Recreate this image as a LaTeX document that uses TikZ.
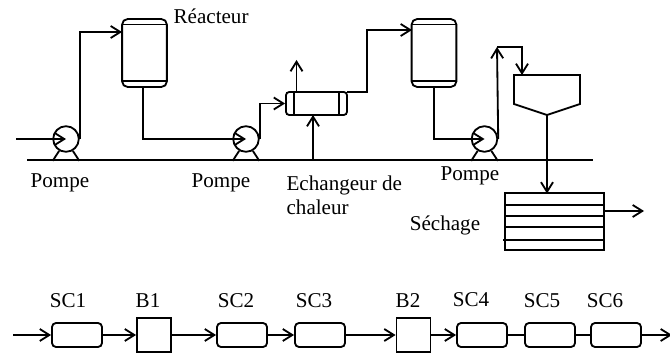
\documentclass[tikz,border=0pt]{standalone}
\usepackage{fontspec}
\setmainfont{Liberation Serif}
\usetikzlibrary{arrows.meta}
\tikzset{
  flux/.style={-{Straight Barb[length=2.4mm,width=3mm]}},
  reacteur/.style={draw, rounded corners=1.4mm, minimum width=11.2mm, minimum height=17mm, inner sep=0},
  pompe/.style={draw, circle, minimum size=6.4mm, inner sep=0},
  sc/.style={draw, rounded corners=1mm, minimum width=12.5mm, minimum height=6mm, inner sep=0},
  bac/.style={draw, minimum width=8.5mm, minimum height=8.5mm, inner sep=0},
}
\begin{document}
\begin{tikzpicture}[x=0.25mm, y=-0.25mm, line width=1.3pt]\tikzstyle{every node}=[font=\fontsize{15}{17}\selectfont]
\useasboundingbox (0,0) rectangle (670,354);
\node[reacteur] (reacteurA) at (144.5,53) {};
\node[reacteur] (reacteurB) at (434,53) {};
\node[pompe] (pompeA) at (66,139) {};
\node[pompe] (pompeB) at (246,139) {};
\node[pompe] (pompeC) at (484.5,139) {};
\node[draw, rounded corners=0.8mm, minimum width=15.25mm, minimum height=5.75mm, inner sep=0] (echangeur) at (316.5,103.5) {};
\node[draw, minimum width=24.75mm, minimum height=14.25mm, inner sep=0] (sechoir) at (554.5,221.75) {};
\coordinate (entonnoir) at (547,115);
\draw (514,75) -- (580,75) -- (580,104) -- (entonnoir) -- (514,104) -- cycle;
%%%%%%%%%%%%%
\coordinate (entree) at (16,139);
\coordinate (socleA) at (27,160);
\coordinate (socleB) at (593,160);
\coordinate (alimA) at (122,32);
\coordinate (alimB) at (412,30);
\coordinate (vapeurA) at (296.5,92);
\coordinate (vapeurB) at (296.5,60);
\coordinate (chaudA) at (313,160);
\coordinate (chaudB) at (313,115);
\coordinate (sortieA) at (347,92);
\coordinate (coude) at (497,47);
\coordinate (hautA) at (522,47);
\coordinate (hautB) at (522,75);
\coordinate (fondA) at (547,193.5);
\coordinate (secA) at (604,211);
\coordinate (secB) at (644,211);
%%%%%%%%%%%%%
\draw (socleA) -- (socleB);
\foreach \p in {pompeA,pompeB,pompeC}{
  \draw (\p.240) -- ++(-6.5,10);
  \draw (\p.300) -- ++(6.5,10);
}
\draw[flux] (entree) -- (pompeA.center);
\draw[flux] (pompeA.east) |- (alimA);
\draw[flux] (reacteurA.south -| 143,0) |- (pompeB.center);
\draw[flux] (pompeB.east) |- (echangeur.west);
\draw[flux] (vapeurA) -- (vapeurB);
\draw[flux] (chaudA) -- (chaudB);
\draw[flux] (sortieA) -| (367,30) -- (alimB);
\draw[flux] (reacteurB.south) |- (pompeC.center);
\draw[flux] (pompeC.east) -- (coude);
\draw[flux] (coude) -- (hautA) -- (hautB);
\draw[flux] (entonnoir) -- (fondA);
\draw[flux] (secA) -- (secB);
%%%%%%%%%%%%%
\draw (122,24.5) -- (167,24.5);
\draw (122,81) -- (167,81);
\draw (412,24.5) -- (456,24.5);
\draw (412,81) -- (456,81);
\draw (294,92) -- (294,115);
\draw (339,92) -- (339,115);
\draw (505,205) -- (604,205);
\draw (505,216) -- (604,216);
\draw (505,227) -- (604,227);
\draw (503,240) -- (604,240);
%%%%%%%%%%%%%
\node[anchor=west] (lreacteur) at (168,16) {Réacteur};
\node (lpompeA) at (60,183) {Pompe};
\node (lpompeB) at (221,183) {Pompe};
\node (lpompeC) at (470,176) {Pompe};
\node[anchor=west, align=left] (lechangeur) at (281,195.5) {Echangeur de\\chaleur};
\node (lsechage) at (445,225) {Séchage};
%%%%%%%%%%%%%
\node[sc] (scA) at (77,335) {};
\node[bac] (bacA) at (154,335) {};
\node[sc] (scB) at (242,335) {};
\node[sc] (scC) at (320,335) {};
\node[bac] (bacB) at (413.5,335) {};
\node[sc] (scD) at (482,335) {};
\node[sc] (scE) at (550,335) {};
\node[sc] (scF) at (616,335) {};
\coordinate (debut) at (13,335);
\coordinate (fin) at (672,335);
%%%%%%%%%%%%%
\draw[flux] (debut) -- (scA);
\draw[flux] (scA) -- (bacA);
\draw[flux] (bacA) -- (scB);
\draw[flux] (scB) -- (scC);
\draw[flux] (scC) -- (bacB);
\draw[flux] (bacB) -- (scD);
\draw (scD) -- (scE);
\draw (scE) -- (scF);
\draw[flux] (scF) -- (fin);
%%%%%%%%%%%%%
\node (lscA) at (68,301) {SC1};
\node (lbacA) at (148,301) {B1};
\node (lscB) at (236,301) {SC2};
\node (lscC) at (314,301) {SC3};
\node (lbacB) at (408,301) {B2};
\node (lscD) at (471,300) {SC4};
\node (lscE) at (542,301) {SC5};
\node (lscF) at (605,301) {SC6};
\end{tikzpicture}
\end{document}
